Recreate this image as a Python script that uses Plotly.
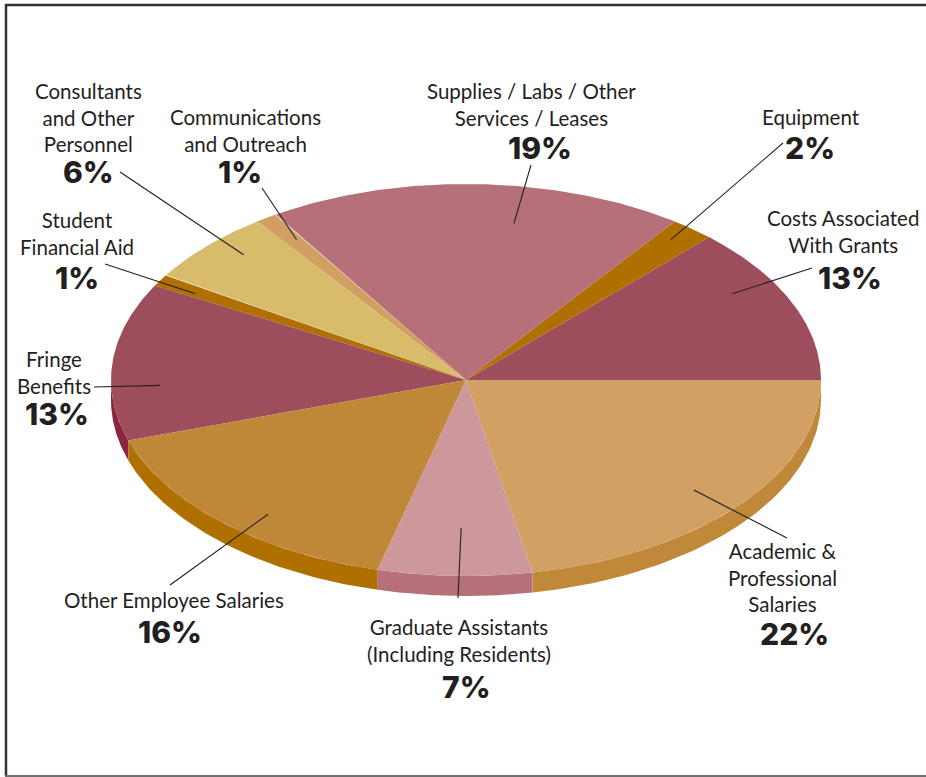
import numpy as np
import plotly.graph_objects as go

# Budget shares, listed counter-clockwise starting at 3 o'clock
categories = [
    "Costs Associated<br>With Grants",
    "Equipment",
    "Supplies / Labs / Other<br>Services / Leases",
    "Communications<br>and Outreach",
    "Consultants<br>and Other<br>Personnel",
    "Student<br>Financial Aid",
    "Fringe<br>Benefits",
    "Other Employee Salaries",
    "Graduate Assistants<br>(Including Residents)",
    "Academic &<br>Professional<br>Salaries",
]
shares = [13, 2, 19, 1, 6, 1, 13, 16, 7, 22]
pct_labels = [f"{v}%" for v in shares]

top_colors = ["#9e4d5c", "#b07000", "#b57079", "#d19f62", "#d8bc6c",
              "#b07000", "#9e4d5c", "#bf8838", "#cc989c", "#d1a062"]
side_colors = ["#86243f", "#955e00", "#a35a66", "#b9853f", "#bfa24f",
               "#955e00", "#8a2441", "#b07000", "#b57079", "#c08839"]

# Pie geometry (pixel space of the page)
CX, CY, RX, RY, DEPTH = 466, 380, 355, 196, 20

# Label layout: text block centre, percentage centre, leader outer end,
# leader inner point given as (fraction along slice, radius fraction)
label_pos = [(843, 231), (811, 117), (531, 104), (245, 130), (88, 117),
             (77, 233), (54, 372), (174, 600), (459, 640), (782, 577)]
pct_pos = [(850, 278), (810, 148), (540, 148), (240, 172), (88, 172),
           (77, 278), (57, 414), (170, 632), (466, 687), (794, 634)]
leader_out = [(812, 268), (783, 143), (531, 165), (262, 188), (120, 172),
              (105, 264), (94, 387), (170, 585), (458, 598), (787, 538)]
leader_in = [(0.65, 0.87), (0.6, 0.92), (0.386, 0.81), (0.36, 0.86), (0.39, 0.895),
             (0.67, 0.88), (0.654, 0.862), (0.57, 0.883), (0.53, 0.755), (0.48, 0.853)]


def ell(t_deg, r=1.0, dy=0.0):
    t = np.radians(t_deg)
    return CX + r * RX * np.cos(t), CY - r * RY * np.sin(t) + dy


total = sum(shares)
bounds = np.concatenate([[0], np.cumsum(shares) / total * 360.0])

fig = go.Figure()

# Side walls of the front half of the disc
for i in range(len(shares)):
    a, b = max(bounds[i], 180.0), min(bounds[i + 1], 360.0)
    if b <= a:
        continue
    t = np.linspace(a, b, 80)
    xt, yt = ell(t)
    xb, yb = ell(t[::-1], dy=DEPTH)
    fig.add_trace(go.Scatter(
        x=np.concatenate([xt, xb, xt[:1]]), y=np.concatenate([yt, yb, yt[:1]]),
        mode="lines", fill="toself", fillcolor=side_colors[i],
        line=dict(width=0), hoverinfo="skip", showlegend=False))

# Top faces
for i in range(len(shares)):
    t = np.linspace(bounds[i], bounds[i + 1], 120)
    xs, ys = ell(t)
    fig.add_trace(go.Scatter(
        x=np.concatenate([[CX], xs, [CX]]), y=np.concatenate([[CY], ys, [CY]]),
        mode="lines", fill="toself", fillcolor=top_colors[i],
        line=dict(width=0), hoverinfo="text",
        text=categories[i].replace("<br>", " ") + f": {shares[i]}%",
        showlegend=False))

TXT = "#231f20"
shapes = []
annotations = []
for i in range(len(shares)):
    f, r = leader_in[i]
    ang = bounds[i] + f * (bounds[i + 1] - bounds[i])
    ix, iy = ell(ang, r=r)
    ox, oy = leader_out[i]
    shapes.append(dict(type="line", xref="x", yref="y", x0=ox, y0=oy, x1=float(ix), y1=float(iy),
                       line=dict(color=TXT, width=1.1)))
    lx, ly = label_pos[i]
    annotations.append(dict(x=lx, y=ly, xref="x", yref="y", text=categories[i],
                            showarrow=False, xanchor="center", yanchor="middle",
                            font=dict(family="Lato", size=20.5, color=TXT)))
    px, py = pct_pos[i]
    annotations.append(dict(x=px, y=py, xref="x", yref="y", text=pct_labels[i],
                            showarrow=False, xanchor="center", yanchor="middle",
                            font=dict(family="Inter", size=30, color=TXT, weight=800)))

# Frame: left, top and bottom rules
shapes += [
    dict(type="line", xref="x", yref="y", x0=6, y0=4, x1=6, y1=776, line=dict(color="#333333", width=2.5)),
    dict(type="line", xref="x", yref="y", x0=5, y0=5, x1=926, y1=5, line=dict(color="#333333", width=2.5)),
    dict(type="line", xref="x", yref="y", x0=5, y0=776, x1=926, y1=776, line=dict(color="#707070", width=2)),
]

fig.update_layout(
    width=926, height=777,
    margin=dict(l=0, r=0, t=0, b=0),
    paper_bgcolor="white", plot_bgcolor="white",
    xaxis=dict(range=[0, 926], visible=False, fixedrange=True),
    yaxis=dict(range=[777, 0], visible=False, fixedrange=True),
    shapes=shapes, annotations=annotations,
)

fig.write_html("out.html")
